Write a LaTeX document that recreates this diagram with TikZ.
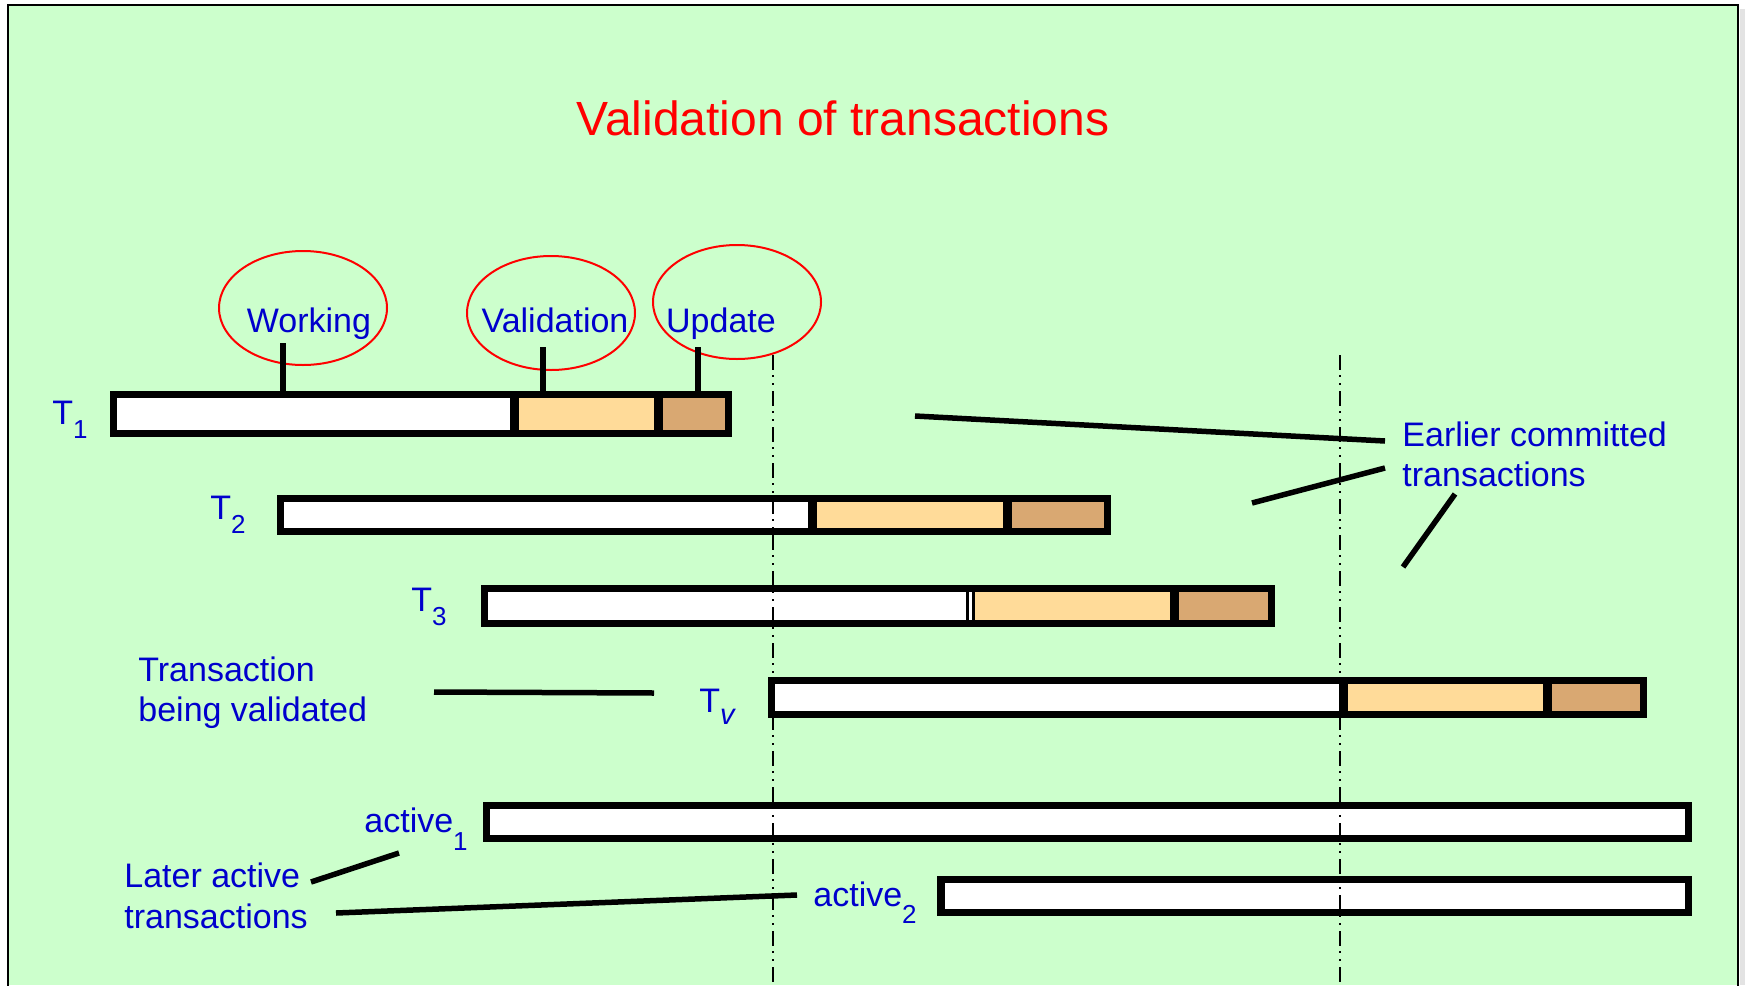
\documentclass[tikz,border=0pt]{standalone}
\usepackage{fontspec}
\setmainfont{Liberation Sans}
\usetikzlibrary{shapes.geometric}

\definecolor{bggreen}{HTML}{CCFFCC}
\definecolor{labelblue}{HTML}{0000CC}
\definecolor{validfill}{HTML}{FFDB99}
\definecolor{updatefill}{HTML}{D9A872}
\definecolor{shadowgray}{HTML}{E3E3E3}

% lowered subscript: #1 drop, #2 text
\newcommand{\lowsub}[2]{\raisebox{-#1}{\fontsize{13}{14}\selectfont #2}}

% transaction bar: #1,#2 outer top-left; #3,#4 outer bottom-right; #5,#6 phase boundaries
\newcommand{\txbar}[6]{%
  \fill[white] (#1,#2) rectangle (#5,#4);
  \fill[validfill] (#5,#2) rectangle (#6,#4);
  \fill[updatefill] (#6,#2) rectangle (#3,#4);
  \draw[barframe] ({#1+3.5},{#2+3.5}) rectangle ({#3-3.5},{#4-3.5});
  \draw[divider] (#5,#2) -- (#5,#4);
  \draw[divider] (#6,#2) -- (#6,#4);
}
\newcommand{\activebar}[4]{%
  \fill[white] (#1,#2) rectangle (#3,#4);
  \draw[barframe] ({#1+3.5},{#2+3.5}) rectangle ({#3-3.5},{#4-3.5});
}

\tikzset{
  barframe/.style={draw=black, line width=3.75pt},
  divider/.style={draw=black, line width=4.5pt},
  leader/.style={draw=black, line width=2.75pt},
  phasetick/.style={draw=black, line width=3pt},
  phase/.style={draw=red, line width=1pt, ellipse, minimum width=84pt, minimum height=57pt, inner sep=0pt},
  lbl/.style={text=labelblue, font=\fontsize{17}{20}\selectfont, inner sep=0pt},
  tlbl/.style={text=labelblue, font=\fontsize{17}{20}\selectfont, inner sep=0pt},
  heading/.style={text=red, font=\fontsize{24}{28}\selectfont, inner sep=0pt},
  epoch/.style={draw=black, line width=1pt,
    dash pattern=on 7.5pt off 2.5pt on 1pt off 3pt on 1pt off 3pt},
}

\begin{document}
\begin{tikzpicture}[x=0.5pt, y=-0.5pt]
  \useasboundingbox (0,0) rectangle (1745,985);

  % slide background and frame
  \fill[white] (0,0) rectangle (1745,985);
  \fill[shadowgray] (1740,9) rectangle (1745,985);
  \fill[bggreen] (8,5) rectangle (1738,985);
  \draw[black, line width=1pt] (8,990) -- (8,5) -- (1738,5) -- (1738,990);

  % heading
  \node[heading, anchor=base] (title) at (843,135) {Validation of transactions};

  % phase names with their circles
  \node[phase] (cwork) at (303,308) {};
  \node[phase] (cval) at (551,313) {};
  \node[phase] (cupd) at (737,302) {};
  \node[lbl, anchor=base] (working) at (309,332) {Working};
  \node[lbl, anchor=base] (validation) at (555,332) {Validation};
  \node[lbl, anchor=base] (update) at (721,332) {Update};

  % transactions
  \txbar{110}{391}{732}{437}{514.5}{658}
  \txbar{277}{495}{1111}{535}{812}{1007}
  \txbar{481}{585}{1275}{627}{970.5}{1174}
  \draw[white, line width=1.5pt] (970.5,592) -- (970.5,620);
  \txbar{768}{677}{1647}{718}{1343.5}{1547.5}
  \activebar{483}{802}{1692}{842}
  \activebar{937.5}{876}{1692}{916}

  % ticks from the phase names down to T1
  \coordinate (wk0) at (283,343); \coordinate (wk1) at (283,398);
  \coordinate (vl0) at (543,347); \coordinate (vl1) at (543,398);
  \coordinate (up0) at (698,347); \coordinate (up1) at (698,398);
  \draw[phasetick] (wk0) -- (wk1);
  \draw[phasetick] (vl0) -- (vl1);
  \draw[phasetick] (up0) -- (up1);

  % start and validation instants of Tv
  \coordinate (ep1a) at (773,355); \coordinate (ep1b) at (773,985);
  \coordinate (ep2a) at (1340,355); \coordinate (ep2b) at (1340,985);
  \draw[epoch] (ep1a) -- (ep1b);
  \draw[epoch] (ep2a) -- (ep2b);

  % transaction names
  \node[tlbl, anchor=base west] (t1) at (52,424) {T\lowsub{7pt}{1}};
  \node[tlbl, anchor=base west] (t2) at (210,519) {T\lowsub{7pt}{2}};
  \node[tlbl, anchor=base west] (t3) at (411,611) {T\lowsub{7pt}{3}};
  \node[tlbl, anchor=base west] (tv) at (699,712)
    {T\raisebox{-6pt}{\fontsize{14.5}{16}\selectfont\itshape v}};
  \node[lbl, anchor=base west] (act1) at (364,832) {active\lowsub{9pt}{1}};
  \node[lbl, anchor=base west] (act2) at (813,906) {active\lowsub{8.5pt}{2}};

  % explanations
  \node[lbl, anchor=base west] (ec1) at (1402,446) {Earlier committed};
  \node[lbl, anchor=base west] (ec2) at (1402,486) {transactions};
  \node[lbl, anchor=base west] (bv1) at (138,681) {Transaction};
  \node[lbl, anchor=base west] (bv2) at (138,721) {being validated};
  \node[lbl, anchor=base west] (la1) at (124,887) {Later active};
  \node[lbl, anchor=base west] (la2) at (124,928) {transactions};

  % leader lines
  \coordinate (e1a) at (915,416);  \coordinate (e1b) at (1385,441);
  \coordinate (e2a) at (1252,503); \coordinate (e2b) at (1385,468);
  \coordinate (e3a) at (1403,567); \coordinate (e3b) at (1455,494);
  \coordinate (tva) at (434,692);  \coordinate (tvb) at (654,693);
  \coordinate (l1a) at (311,882);  \coordinate (l1b) at (399,853);
  \coordinate (l2a) at (336,913);  \coordinate (l2b) at (797,895);
  \draw[leader] (e1a) -- (e1b);
  \draw[leader] (e2a) -- (e2b);
  \draw[leader] (e3a) -- (e3b);
  \draw[leader] (tva) -- (tvb);
  \draw[leader] (l1a) -- (l1b);
  \draw[leader] (l2a) -- (l2b);
\end{tikzpicture}
\end{document}
